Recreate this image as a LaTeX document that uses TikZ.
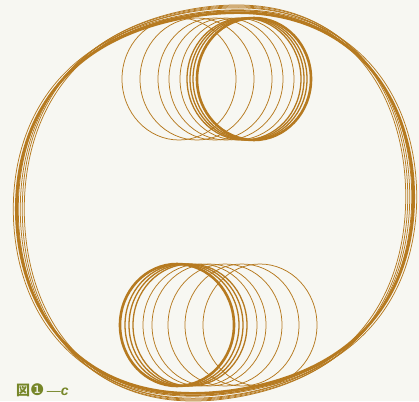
\documentclass[tikz,border=0pt]{standalone}
\usepackage{fontspec}
\setmainfont{Liberation Sans}
\newfontfamily\jpfont{Noto Sans CJK JP}
\newfontfamily\djfont{DejaVu Sans}
\definecolor{trace}{RGB}{182,122,32}
\definecolor{paper}{RGB}{247,247,242}
\definecolor{olive}{RGB}{118,134,40}
\tikzset{
  heavy/.style={draw=trace, line width=2.6pt},
  mid/.style={draw=trace, line width=1.3pt},
  fine/.style={draw=trace, line width=0.75pt},
  loopring/.style={x radius=57, y radius=61},
  about/.style n args={2}{shift={(215,203)}, xscale=#1, yscale=#2, shift={(-215,-203)}},
}
\def\bigloop{plot[domain=0:360, samples=181, smooth, variable=\t]
  ({215+(198.5+4.18*cos(2*\t)+5.31*sin(2*\t)-3.04*cos(4*\t)-1.37*sin(4*\t))*cos(\t)},
   {203-(198.5+4.18*cos(2*\t)+5.31*sin(2*\t)-3.04*cos(4*\t)-1.37*sin(4*\t))*sin(\t)})}
\begin{document}
\begin{tikzpicture}[x=1pt,y=-1pt]
\fill[paper] (0,0) rectangle (419,401);
\useasboundingbox (0,0) rectangle (419,401);
% big loop traces
\draw[fine, about={0.985}{1.015}] \bigloop;
\draw[fine, about={0.975}{1.025}] \bigloop;
\draw[fine, about={0.965}{1.03}] \bigloop;
\draw[fine, about={0.955}{1.02}] \bigloop;
\draw[fine, about={1.01}{1.005}] \bigloop;
\draw[mid, about={0.99}{1.0}] \bigloop;
\draw[heavy, about={0.995}{0.99}] \bigloop;
% top cluster
\foreach \cx in {179,197,215,226,237} \draw[fine] (\cx,79) ellipse [loopring];
\foreach \cx in {244,247,250} \draw[mid] (\cx,79) ellipse [loopring];
\draw[heavy] (254,79) ellipse [loopring];
% bottom cluster
\foreach \cx in {200,209,225,242,260} \draw[fine] (\cx,325) ellipse [loopring];
\foreach \cx in {190,186,182} \draw[mid] (\cx,325) ellipse [loopring];
\draw[heavy] (177,325) ellipse [loopring];
% label
\node[anchor=west, inner sep=0pt, text=olive, font=\fontsize{14}{14}\selectfont] (lbl) at (16,390)
  {{\jpfont\bfseries 図}{\djfont\fontsize{16}{16}\selectfont ❶}\,{—}{\bfseries\itshape c}};
\end{tikzpicture}
\end{document}
